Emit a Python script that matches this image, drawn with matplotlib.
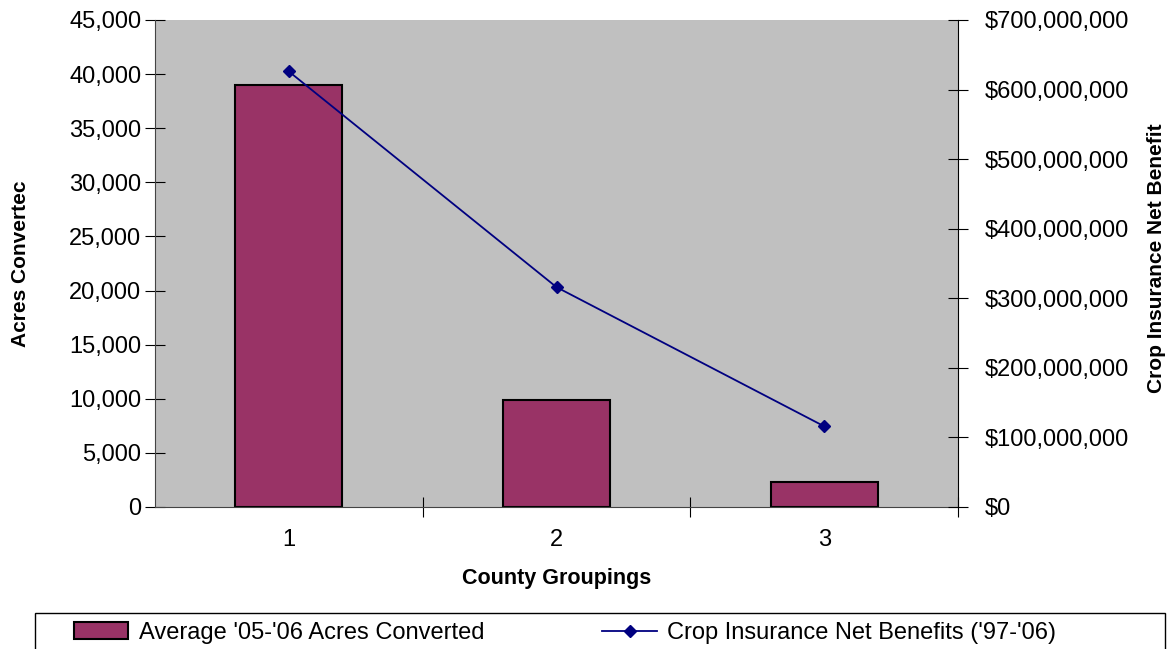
import matplotlib.pyplot as plt
from matplotlib.ticker import FuncFormatter, MultipleLocator
from matplotlib.lines import Line2D
from matplotlib.patches import Patch, Rectangle

plt.rcParams['font.family'] = ['Liberation Sans', 'DejaVu Sans']

groups = [1, 2, 3]
acres = [39000, 9850, 2300]
benefits = [626e6, 316e6, 116e6]

bar_label = "Average '05-'06 Acres Converted"
line_label = "Crop Insurance Net Benefits ('97-'06)"

fig = plt.figure(figsize=(11.7, 6.49), dpi=100)
ax = fig.add_axes([0.1325, 0.2188, 0.6863, 0.7504])
ax.set_facecolor('#C0C0C0')

ax.bar(groups, acres, width=0.4, color='#993366', edgecolor='black', linewidth=1.5, zorder=2)
ax.set_xlim(0.5, 3.5)
ax.set_ylim(0, 45000)
ax.yaxis.set_major_locator(MultipleLocator(5000))
ax.yaxis.set_major_formatter(FuncFormatter(lambda v, p: '{:,}'.format(int(v))))
ax.set_xticks([1.5, 2.5, 3.5])
ax.set_xticklabels([])
ax.set_xticks(groups, minor=True)
ax.set_xticklabels([str(g) for g in groups], minor=True)
ax.tick_params(axis='x', which='minor', length=0, pad=16, labelsize=17)
ax.tick_params(axis='x', which='major', direction='inout', length=14)
ax.tick_params(axis='y', direction='inout', length=14, labelsize=17, pad=3)
for s in ['top', 'right']:
    ax.spines[s].set_visible(False)
ax.spines['left'].set_color('#444444')
ax.spines['bottom'].set_color('#444444')

ax.set_xlabel('County Groupings', fontsize=15.5, fontweight='bold', labelpad=12)
ax.set_ylabel('Acres Convertec', fontsize=15, fontweight='bold', ha='center', va='center')
ax.yaxis.set_label_coords((20 - 155) / 803, 0.5)

ax2 = ax.twinx()
ax2.plot(groups, benefits, color='#000080', linewidth=1.3, marker='D', markersize=6, zorder=3)
ax2.set_ylim(0, 700e6)
ax2.yaxis.set_major_locator(MultipleLocator(100e6))
ax2.yaxis.set_major_formatter(FuncFormatter(lambda v, p: '${:,}'.format(int(v))))
ax2.tick_params(axis='y', direction='inout', length=14, labelsize=17, pad=12)
for s in ['top', 'left', 'bottom']:
    ax2.spines[s].set_visible(False)
ax2.spines['right'].set_color('black')
ax2.set_ylabel('Crop Insurance Net Benefit', fontsize=15, fontweight='bold', ha='center', va='center')
ax2.yaxis.set_label_coords(1 + (1157 - 958) / 803, 0.51)

# legend box along the bottom
fig.patches.append(Rectangle((35 / 1170, -0.05), 1130 / 1170, 0.105, transform=fig.transFigure,
                             facecolor='white', edgecolor='black', linewidth=1))
handles = [Patch(facecolor='#993366', edgecolor='black', linewidth=1.5),
           Line2D([], [], color='#000080', marker='D', markersize=6, linewidth=1.3)]
fig.legend(handles, [bar_label, line_label], loc='center left', bbox_to_anchor=(0.045, 0.025),
           ncol=2, frameon=False, fontsize=17, columnspacing=5.0, handlelength=2.3,
           handletextpad=0.45)

fig.savefig('out.png', dpi=100)
